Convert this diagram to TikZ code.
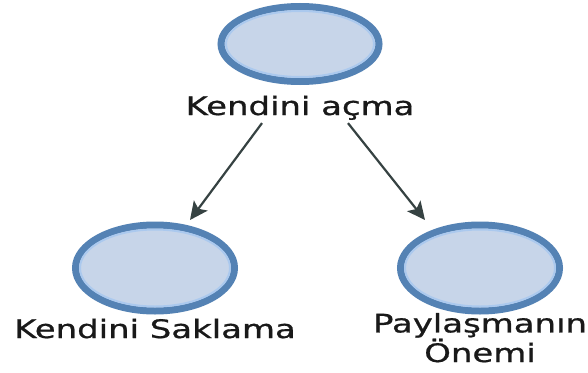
\documentclass[tikz,border=0pt]{standalone}
\usepackage{fontspec}
\setmainfont{DejaVu Sans}
\newfontfamily\capfont[FakeBold=0.7]{DejaVu Sans}
\usetikzlibrary{shapes.geometric,arrows.meta}
\definecolor{ringblue}{HTML}{5482B4}
\definecolor{fillblue}{HTML}{C7D5E9}
\definecolor{rimblue}{HTML}{ABC9EE}
\definecolor{arrowgray}{HTML}{364242}
\newcommand\wide[1]{\scalebox{1.33}[1]{#1}}
\tikzset{
  bubble/.style={ellipse, draw=ringblue, fill=fillblue, line width=7pt, inner sep=0pt},
  rim/.style={draw=rimblue, line width=2pt},
  caption/.style={anchor=base, inner sep=0pt, align=center,
    font=\capfont\fontsize{25.5}{24}\selectfont, text=black!90},
  link/.style={draw=arrowgray, line width=2.2pt,
    -{Stealth[length=18pt,width=17pt,inset=4pt]}}
}
\begin{document}
\begin{tikzpicture}[x=1pt,y=-1pt]
\useasboundingbox (0,0) rectangle (588,372);
\fill[white] (0,0) rectangle (588,372);

% circles
\node[bubble, minimum width=158pt, minimum height=75pt] (top) at (300,44) {};
\node[bubble, minimum width=159pt, minimum height=86pt] (left) at (155,268) {};
\node[bubble, minimum width=159pt, minimum height=86pt] (right) at (480,268) {};
% lighter inner rim
\draw[rim] (300,44) ellipse [x radius=74, y radius=33];
\draw[rim] (155,268) ellipse [x radius=75, y radius=38.5];
\draw[rim] (480,268) ellipse [x radius=75, y radius=38.5];

% captions
\node[caption] (toplab) at (300,115) {\wide{Kendini açma}};
\node[caption] (leftlab) at (155,338) {\wide{Kendini Saklama}};
\node[caption] (rightlab) at (480,362) {\wide{Paylaşmanın}\\\wide{Önemi}};

% arrows
\coordinate (s1) at ([xshift=-38pt,yshift=-3pt]toplab.south);
\coordinate (s2) at ([xshift=48pt,yshift=-3pt]toplab.south);
\coordinate (e1) at (190,220);
\coordinate (e2) at (425,220);
\draw[link] (s1) -- (e1);
\draw[link] (s2) -- (e2);
\end{tikzpicture}
\end{document}
